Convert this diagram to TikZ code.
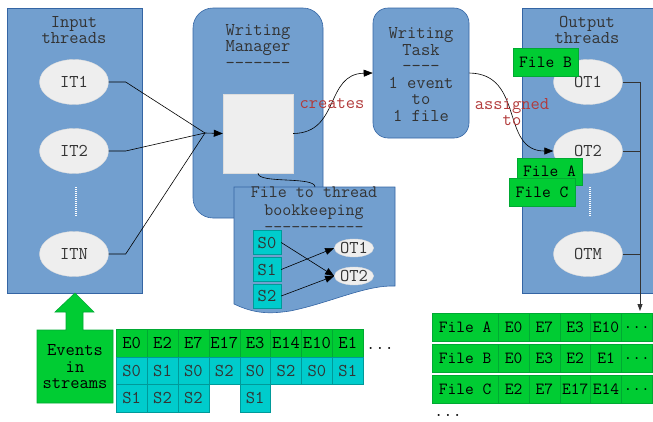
\documentclass[tikz,border=0pt]{standalone}
\usepackage{fontspec}
\usetikzlibrary{arrows.meta,shapes.geometric}
\definecolor{boxblue}{HTML}{729FCF}
\definecolor{boxedge}{HTML}{3465A4}
\definecolor{ellfill}{HTML}{EEEEEE}
\definecolor{ellline}{HTML}{DDDDDD}
\definecolor{grn}{HTML}{00CC33}
\definecolor{grnedge}{HTML}{00A933}
\definecolor{teal}{HTML}{00CCCC}
\definecolor{tealedge}{HTML}{009999}
\definecolor{lblred}{HTML}{B23A3A}
\definecolor{txtdark}{HTML}{333333}
\begin{document}
\begin{tikzpicture}[x=1pt,y=-1pt,
  mono/.style={font=\ttfamily\fontsize{18}{16.5}\selectfont},
  title/.style={mono,text=txtdark,align=center,inner sep=0pt},
  panel/.style={draw=boxedge,fill=boxblue,line width=0.6pt},
  thread/.style={ellipse,fill=ellfill,draw=ellline,minimum width=69pt,minimum height=45pt,inner sep=0pt,mono,text=txtdark},
  smallthr/.style={ellipse,fill=ellfill,draw=ellline,minimum width=38pt,minimum height=18pt,inner sep=0pt,mono,text=txtdark},
  scell/.style={draw=tealedge,fill=teal,minimum width=28pt,minimum height=24pt,inner sep=0pt,mono,text=txtdark},
  ecell/.style={draw=grnedge,fill=grn,inner sep=0pt,mono,text=black},
  tcell/.style={draw=tealedge,fill=teal,inner sep=0pt,mono,text=txtdark},
  filetag/.style={draw=grnedge,fill=grn,inner sep=0pt,font=\ttfamily\fontsize{17}{16}\selectfont,text=black},
  conn/.style={draw=black,line width=0.6pt},
  tip/.style={-{Triangle[length=9pt,width=7pt]}},
  lbl/.style={mono,text=lblred,align=center,inner sep=0pt},
  dotcol/.style={draw=white,line width=2.5pt,dash pattern=on 1pt off 1pt}
]
\useasboundingbox (0,0) rectangle (653,421);

% ---- input threads panel
\node[panel,minimum width=135pt,minimum height=285pt,inner sep=0pt] (inbox) at (74.5,150.5) {};
\node[title] (intitle) at (74,30) {Input\\threads};
\node[thread] (it1) at (74,82) {IT1};
\node[thread] (it2) at (74,151) {IT2};
\node[thread] (itn) at (74,254) {ITN};
\coordinate (idt) at (76,187);
\coordinate (idb) at (76,216);
\draw[dotcol] (idt) -- (idb);

% ---- writing manager
\node[panel,rounded corners=20pt,minimum width=130pt,minimum height=210pt,inner sep=0pt] (wm) at (258,113) {};
\node[title] (wmtitle) at (258,46) {Writing\\Manager\\-------};
\node[fill=ellfill,draw=ellline,minimum width=70pt,minimum height=79pt,inner sep=0pt] (sq) at (258,133.5) {};

% ---- writing task
\node[panel,rounded corners=15pt,minimum width=96pt,minimum height=130pt,inner sep=0pt] (wt) at (421,73) {};
\node[title] (wttitle) at (421,74.5) {Writing\\Task\\----\\1 event\\to\\1 file};

% ---- output threads panel
\node[panel,minimum width=134pt,minimum height=285pt,inner sep=0pt,anchor=north west] (outbox) at (522,8) {};
\node[title] (outtitle) at (587,30) {Output\\threads};
\node[thread] (ot1) at (588,82) {OT1};
\node[thread] (ot2) at (588,151) {OT2};
\node[thread] (otm) at (588,254) {OTM};
\coordinate (odt) at (590,187);
\coordinate (odb) at (590,216);
\draw[dotcol] (odt) -- (odb);

% ---- bookkeeping document
\draw[panel] (234,187) -- (395,187) -- (395,286)
  .. controls (365,285) and (330,303) .. (290,311)
  .. controls (270,314) and (255,314) .. (234,304) -- cycle;
\node[title,font=\ttfamily\fontsize{17.5}{17.5}\selectfont] (bktitle) at (314,210) {File to thread\\bookkeeping\\-----------};
\node[scell] (s0) at (267,242.5) {S0};
\node[scell] (s1) at (267,269.5) {S1};
\node[scell] (s2) at (267,296) {S2};
\node[smallthr] (bot1) at (354,248) {OT1};
\node[smallthr] (bot2) at (354,276) {OT2};
\draw[conn,tip] (s0.east) -- (bot2.west);
\draw[conn,tip] (s1.east) -- (bot1.west);
\draw[conn,tip] (s2.east) -- (bot2.west);

% ---- input connectors
\coordinate (merge) at (205,133);
\draw[conn] (it1.east) -- ++(17,0) -- (merge);
\draw[conn] (it2.east) -- ++(17,0) -- (merge);
\draw[conn] (itn.east) -- ++(17,0) -- (merge);
\draw[conn,tip] (merge) -- (sq.west);

% square to document
\coordinate (doctop) at (315,187);
\draw[conn] (sq.south) .. controls (258,184) and (315,176) .. (doctop);

% creates
\draw[conn,tip] (sq.east) .. controls (340,133) and (325,74) .. (wt.west);
\node[lbl] (creates) at (332,104) {creates};

% assigned to
\draw[conn,tip] (wt.east) .. controls (525,74) and (500,151) .. (ot2.west);
\node[lbl] (assigned) at (512,112) {assigned\\to};

% file tags
\node[filetag,minimum width=65pt,minimum height=28pt] (fb) at (545.5,62) {File B};
\node[filetag,minimum width=65pt,minimum height=27pt] (fa) at (549.5,171.5) {File A};
\node[filetag,minimum width=66pt,minimum height=28pt] (fc) at (542,192) {File C};

% output bus
\coordinate (bt) at (640,82);
\coordinate (bb) at (640,311);
\draw[draw=txtdark,line width=0.8pt,-{Triangle[length=7pt,width=5pt]}] (ot1.east) -- (bt) -- (bb);
\draw[draw=txtdark,line width=0.8pt] (ot2.east) -- (ot2.east -| bt);
\draw[draw=txtdark,line width=0.8pt] (otm.east) -- (otm.east -| bt);

% ---- events in streams arrow
\draw[draw=grnedge,fill=grn,line width=0.6pt] (37,330) -- (66,330) -- (66,312) -- (55,312) -- (75,293) -- (94,312) -- (83,312) -- (83,330) -- (113,330) -- (113,403) -- (37,403) -- cycle;
\node[title,text=black] (events) at (75,367) {Events\\in\\streams};

% ---- events table
\foreach \t [count=\i from 0] in {E0,E2,E7,E17,E3,E14,E10,E1}{
  \pgfmathsetmacro{\xl}{116+\i*30.875}
  \node[ecell,minimum width=30.875pt,minimum height=28pt,anchor=north west] (e\i) at (\xl,329) {\t};
}
\foreach \t [count=\i from 0] in {S0,S1,S0,S2,S0,S2,S0,S1}{
  \pgfmathsetmacro{\xl}{116+\i*30.875}
  \node[tcell,minimum width=30.875pt,minimum height=27pt,anchor=north west] (sa\i) at (\xl,357) {\t};
}
\foreach \t/\i in {S1/0,S2/1,S2/2,S1/4}{
  \pgfmathsetmacro{\xl}{116+\i*30.875}
  \node[tcell,minimum width=30.875pt,minimum height=28pt,anchor=north west] (sb\i) at (\xl,384) {\t};
}
\node[mono,inner sep=0pt,anchor=base] (edots) at (380,349) {...};

% ---- file tables
\node[filetag,minimum width=66pt,minimum height=28pt,anchor=north west] (frA) at (432,313) {File A};
\node[filetag,minimum width=66pt,minimum height=28pt,anchor=north west] (frB) at (432,344) {File B};
\node[filetag,minimum width=66pt,minimum height=28pt,anchor=north west] (frC) at (432,375) {File C};
\foreach \a/\b/\c/\d/\y/\r in {E0/E7/E3/E10/313/a, E0/E3/E2/E1/344/b, E2/E7/E17/E14/375/c}{
  \node[filetag,minimum width=30.8pt,minimum height=28pt,anchor=north west] (\r1) at (498,\y) {\a};
  \node[filetag,minimum width=30.8pt,minimum height=28pt,anchor=north west] (\r2) at (528.8,\y) {\b};
  \node[filetag,minimum width=30.8pt,minimum height=28pt,anchor=north west] (\r3) at (559.6,\y) {\c};
  \node[filetag,minimum width=30.8pt,minimum height=28pt,anchor=north west] (\r4) at (590.4,\y) {\d};
  \node[filetag,minimum width=30.8pt,minimum height=28pt,anchor=north west] (\r5) at (621.2,\y) {...};
}
\node[mono,inner sep=0pt,anchor=base west] (fdots) at (434,416) {...};
\end{tikzpicture}
\end{document}
